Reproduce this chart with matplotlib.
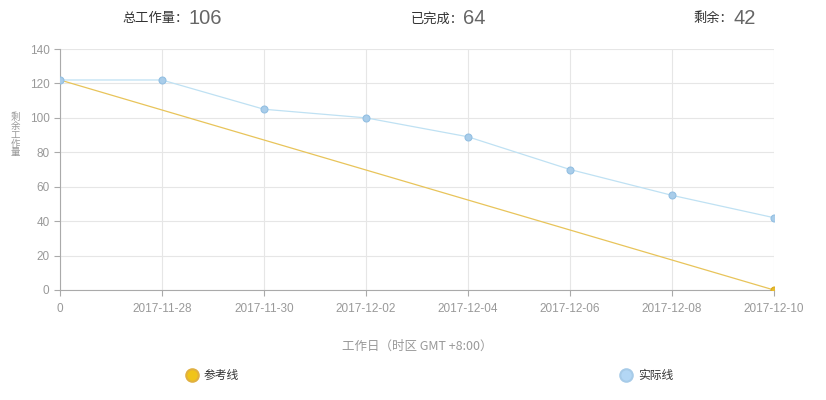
import matplotlib.pyplot as plt
import numpy as np

plt.rcParams['font.family'] = ['Noto Sans CJK SC', 'DejaVu Sans']

# 数据
days = ['0', '2017-11-28', '2017-11-30', '2017-12-02', '2017-12-04',
        '2017-12-06', '2017-12-08', '2017-12-10']
actual = [122, 122, 105, 100, 89, 70, 55, 42]
ref_idx = [0, 7]
ref_vals = [122, 0]
yticks = [0, 20, 40, 60, 80, 100, 120, 140]

summary = [('总工作量：', '106', 0.228), ('已完成：', '64', 0.561), ('剩余：', '42', 0.888)]

fig = plt.figure(figsize=(8.26, 4.0), dpi=100)
ax = fig.add_axes([0.0726, 0.275, 0.8644, 0.6025])

x = np.arange(len(days))

# 参考线
ax.plot(ref_idx, ref_vals, color='#e8c45a', lw=0.9, zorder=3)
ax.plot(ref_idx[-1], ref_vals[-1], 'o', ms=5, mfc='#e8bb2c', mec='#d8a920', mew=0.8, zorder=4)

# 实际线
ax.plot(x, actual, color='#bfe1f3', lw=0.9, zorder=3)
ax.plot(x, actual, 'o', ms=5, mfc='#a9cdea', mec='#93bfe2', mew=0.8, ls='none', zorder=4)

ax.set_xlim(0, len(days) - 1)
ax.set_ylim(0, 140)
ax.set_xticks(x)
ax.set_xticklabels(days)
ax.set_yticks(yticks)

ax.grid(True, color='#e6e6e6', lw=0.8)
ax.set_axisbelow(True)
for s in ['top', 'right']:
    ax.spines[s].set_visible(False)
for s in ['left', 'bottom']:
    ax.spines[s].set_color('#aaaaaa')
    ax.spines[s].set_linewidth(0.8)

ax.tick_params(axis='both', colors='#aaaaaa', labelcolor='#999999', labelsize=8.5, length=4, width=0.8)
for lab in ax.get_xticklabels() + ax.get_yticklabels():
    lab.set_family(['Liberation Sans', 'DejaVu Sans'])
ax.tick_params(axis='x', pad=5)

ax.set_xlabel('工作日（时区 GMT +8:00）', color='#999999', fontsize=9, labelpad=18)
# 纵向直排的y轴标题
fig.text(0.019, 0.6625, '\n'.join('剩余工作量'), color='#999999', fontsize=6.8,
         ha='center', va='center', linespacing=0.95)

# 顶部统计
for label, num, xpos in summary:
    fig.text(xpos, 0.953, label, ha='right', va='center', color='#333333', fontsize=9.5)
    fig.text(xpos, 0.955, num, ha='left', va='center', color='#666666', fontsize=14.5,
             family=['Liberation Sans', 'DejaVu Sans'])

# 图例
fig.lines.append(plt.Line2D([0.2325], [0.0625], transform=fig.transFigure, marker='o', ms=9,
                            mfc='#f0c419', mec='#e0b040', mew=1.5))
fig.text(0.247, 0.0625, '参考线', ha='left', va='center', color='#333333', fontsize=8.5)
fig.lines.append(plt.Line2D([0.758], [0.0625], transform=fig.transFigure, marker='o', ms=9,
                            mfc='#b3d7f5', mec='#a7cbe8', mew=1.5))
fig.text(0.7725, 0.0625, '实际线', ha='left', va='center', color='#333333', fontsize=8.5)

fig.savefig('out.png', dpi=100)
